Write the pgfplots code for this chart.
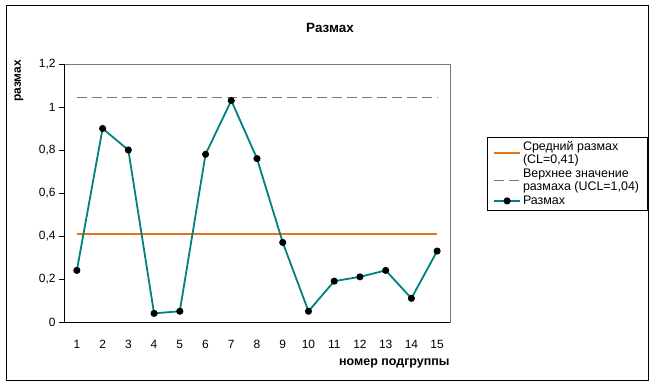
\documentclass[border=0pt]{standalone}
\usepackage{pgfplots}
\pgfplotsset{compat=1.18}
\usepackage{fontspec}
\setmainfont{Liberation Sans}
\definecolor{myorange}{RGB}{230,115,20}
\definecolor{myteal}{RGB}{0,128,128}
\definecolor{mygray}{RGB}{120,120,120}
\begin{document}
\begin{tikzpicture}[x=1bp,y=1bp]
\path (0,0) rectangle (655,388);
\draw[line width=1bp] (6,8) rectangle (648,382);
\node[font=\fontsize{13.5}{15}\selectfont\bfseries] at (330,360) {Размах};
\node[font=\fontsize{12}{14}\selectfont\bfseries, rotate=90] at (19,307) {размах};
\node[font=\fontsize{12.5}{14}\selectfont\bfseries, anchor=east] at (453,25) {номер подгруппы};
\begin{axis}[
  at={(64bp,66bp)}, anchor=south west, scale only axis,
  width=386bp, height=258bp,
  xmin=0.5, xmax=15.5, ymin=0, ymax=1.2,
  xtick={1,...,15},
  ytick={0,0.2,0.4,0.6,0.8,1,1.2},
  minor xtick={0.5,1.5,2.5,3.5,4.5,5.5,6.5,7.5,8.5,9.5,10.5,11.5,12.5,13.5,14.5,15.5},
  tick align=outside,
  major tick length=5bp, minor tick length=5bp,
  xtick style={draw=none},
  minor tick style={black, line width=0.8bp, draw=black},
  ytick style={black, line width=0.8bp},
  xtick pos=bottom, ytick pos=left,
  axis line style={mygray, line width=0.8bp},
  /pgf/number format/assume math mode=true,
  yticklabel style={/pgf/number format/.cd, use comma, fixed, precision=1},
  tick label style={font=\fontsize{12}{14}\selectfont},
  xticklabel style={yshift=-10bp},
  clip=false,
  legend style={
    at={(axis description cs:1.0959,0.717)}, anchor=north west,
    draw=black,
    font=\fontsize{12.5}{13}\selectfont,
    cells={anchor=west, align=left},
    inner xsep=6bp, inner ysep=2bp,
    row sep=0bp,
  },
  legend image code/.code={\draw[mark repeat=2,mark phase=2,#1] plot coordinates {(0bp,0bp) (13bp,0bp) (26bp,0bp)};},
]
\draw[black, line width=0.8bp] (rel axis cs:0,1) -- (rel axis cs:0,0) -- (rel axis cs:1,0);
\addplot[draw=myorange, line width=1.3bp] coordinates {(1,0.41) (15,0.41)};
\addlegendentry{Средний размах\\(CL=0,41)}
\addplot[draw=mygray, line width=1.6bp, dash pattern=on 10bp off 5bp] coordinates {(1,1.045) (15,1.045)};
\addlegendentry{Верхнее значение\\размаха (UCL=1,04)}
\addplot[draw=myteal, line width=1.8bp, mark=*, mark size=2.6bp, mark options={draw=black, fill=black, solid}] coordinates {
(1,0.24) (2,0.90) (3,0.80) (4,0.04) (5,0.05) (6,0.78) (7,1.03) (8,0.76)
(9,0.37) (10,0.05) (11,0.19) (12,0.21) (13,0.24) (14,0.11) (15,0.33)};
\addlegendentry{Размах}
\end{axis}
\end{tikzpicture}
\end{document}
